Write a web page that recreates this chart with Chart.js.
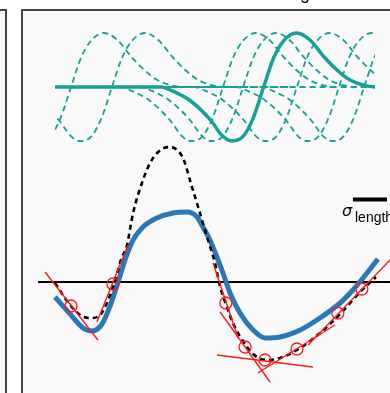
<!DOCTYPE html>
<html>
<head>
<meta charset="utf-8">
<script src="https://cdn.jsdelivr.net/npm/chart.js@4.4.1/dist/chart.umd.min.js"></script>
<style>
  html, body { margin: 0; padding: 0; background: #fff; overflow: hidden; }
  #wrap { position: relative; width: 390px; height: 393px; overflow: hidden; }
  .panel { position: absolute; top: 9px; height: 420px; box-sizing: border-box; border: 2px solid #444; background: #f9f9f9; }
  #left { left: -20px; width: 27px; }
  #main { left: 21px; width: 420px; }
  canvas { position: absolute; left: 0; top: 0; }
</style>
</head>
<body>
<div id="wrap">
  <div class="panel" id="left"></div>
  <div class="panel" id="main"></div>
  <canvas id="chart" width="390" height="393"></canvas>
</div>
<script>
// wavelet shape (position offset from centre, normalised amplitude)
const waveletOffsets = [-70, -32, -29, -23, -16.5, -13, -10, -6.5, -3.3, 0, 3.2, 6.3, 10.3, 14.5, 18.7, 23, 27, 31.5, 36, 70];
const waveletShape = [0, 0, -0.06, -0.25, -0.62, -0.9, -1.0, -0.92, -0.58, 0, 0.55, 0.86, 1.0, 0.87, 0.57, 0.31, 0.13, 0.03, 0, 0];
const dashedCentres = [5, 17.8, 52.5, 58.8, 75.6, 88.75, 96.6];
const solidCentre = 65.2;

// signal (thick blue)
const signalX = [0, 4.7, 8.75, 11.6, 14.7, 17.2, 19.7, 22.2, 24.4, 27.5, 31.9, 36.9, 41.25, 44.4, 46.25, 48.4, 50.6, 52.5, 54.7, 57.8, 61.9, 65.6, 70.3, 76.6, 82.8, 89.1, 93.1, 97.5, 100.9];
const signalY = [-1.5, -3.2, -4.6, -4.9, -4.2, -2.4, 0, 2.5, 4.2, 5.5, 6.4, 6.9, 7.0, 6.5, 5.5, 4.2, 2.5, 0.9, -1.1, -3.1, -4.8, -5.6, -5.5, -4.8, -3.6, -2.1, -0.8, 0.9, 2.3];

// reconstruction (black dashed)
const reconX = [0, 4.7, 8.4, 11.25, 14.1, 16.6, 18.75, 20.6, 22.5, 24.4, 27.5, 29.7, 31.9, 34.1, 36.25, 38.1, 40, 42.8, 45.3, 47.8, 50, 51.6, 53.75, 55.6, 60, 63.1, 66.25, 70.3, 76.6, 82.8, 89.1, 95.3, 100.3];
const reconY = [-0.1, -2.3, -3.4, -3.6, -3.3, -1.8, 0.1, 2.2, 3.7, 6.9, 10.2, 11.9, 12.9, 13.4, 13.5, 13.2, 12.4, 9.5, 6.9, 4.2, 1.9, -0.5, -2.5, -4.1, -6.5, -7.5, -7.8, -7.6, -6.6, -5.1, -3.2, -1.0, 0.5];

// sample points and their tangents
const sampleX = [5, 18.1, 53.4, 59.4, 65.6, 75.6, 88.4, 95.9];
const sampleY = [-2.4, -0.2, -2.1, -6.5, -7.8, -6.7, -3.1, -0.7];
const tangentX = [[-3.1, 13.4], [13.1, 22.8], [49.4, 57.2], [51.6, 67.2], [50.6, 80.6], [63.4, 87.5], [79.1, 105.3]];
const tangentY = [[1.0, -5.8], [-4.0, 3.7], [1.9, -5.6], [-3.0, -10.0], [-7.3, -8.5], [-9.1, -4.3], [-6.3, 2.4]];

const zeroLineX = [-5.3, 106];
const scaleBarX = [93.1, 103.75];
const scaleBarY = 8.25;

const teal = "#15a196";
const red = "#ff1a1a";

const pts = (xs, ys) => xs.map((x, i) => ({ x: x, y: ys[i] }));
const waveClip = { left: -55, right: -15, top: 0, bottom: 0 };

const datasets = [];

dashedCentres.forEach((c) => {
  datasets.push({
    data: pts(waveletOffsets.map((o) => c + o), waveletShape),
    yAxisID: "yw",
    borderColor: teal,
    borderWidth: 1.8,
    borderDash: [6, 4],
    cubicInterpolationMode: "monotone",
    clip: waveClip,
    order: 7,
  });
});

datasets.push({
  data: pts(waveletOffsets.map((o) => solidCentre + o), waveletShape),
  yAxisID: "yw",
  borderColor: teal,
  borderWidth: 3.5,
  cubicInterpolationMode: "monotone",
  clip: waveClip,
  order: 6,
});

datasets.push({
  data: pts(zeroLineX, [0, 0]),
  borderColor: "#000",
  borderWidth: 2,
  order: 5,
});

datasets.push({
  data: pts(signalX, signalY),
  borderColor: "#2a78b8",
  borderWidth: 5,
  cubicInterpolationMode: "monotone",
  order: 4,
});

datasets.push({
  data: pts(reconX, reconY),
  borderColor: "#000",
  borderWidth: 2.6,
  borderDash: [5, 4],
  cubicInterpolationMode: "monotone",
  order: 3,
});

tangentX.forEach((xs, i) => {
  datasets.push({
    data: pts(xs, tangentY[i]),
    borderColor: red,
    borderWidth: 1.4,
    order: 2,
  });
});

datasets.push({
  data: pts(sampleX, sampleY),
  showLine: false,
  pointRadius: 6,
  pointBackgroundColor: "rgba(0,0,0,0)",
  pointBorderColor: red,
  pointBorderWidth: 1.3,
  order: 1,
});

datasets.push({
  data: pts(scaleBarX, [scaleBarY, scaleBarY]),
  borderColor: "#000",
  borderWidth: 4,
  order: 0,
});

datasets.forEach((d) => {
  if (d.showLine === undefined) d.showLine = true;
  if (d.pointRadius === undefined) d.pointRadius = 0;
  d.fill = false;
});

// labels
const labelPlugin = {
  id: "labels",
  afterDraw(chart) {
    const ctx = chart.ctx;
    ctx.save();
    ctx.fillStyle = "#000";
    ctx.textBaseline = "alphabetic";
    ctx.font = 'italic 16px "DejaVu Sans"';
    ctx.fillText("σ", 342, 216);
    ctx.font = '14px "Liberation Sans"';
    ctx.fillText("length", 355, 222);
    ctx.font = '18px "Liberation Sans"';
    ctx.fillText("g", 300, -1);
    ctx.restore();
  },
};

new Chart(document.getElementById("chart"), {
  type: "scatter",
  data: { datasets: datasets },
  options: {
    responsive: false,
    animation: false,
    devicePixelRatio: 1,
    layout: { padding: 0, autoPadding: false },
    plugins: { legend: { display: false }, tooltip: { enabled: false } },
    scales: {
      x: { type: "linear", min: -17.1875, max: 104.6875, display: false },
      y: { type: "linear", min: -11.1, max: 28.2, display: false },
      yw: { type: "linear", min: -5.6667, max: 1.6111, display: false },
    },
  },
  plugins: [labelPlugin],
});
</script>
</body>
</html>
